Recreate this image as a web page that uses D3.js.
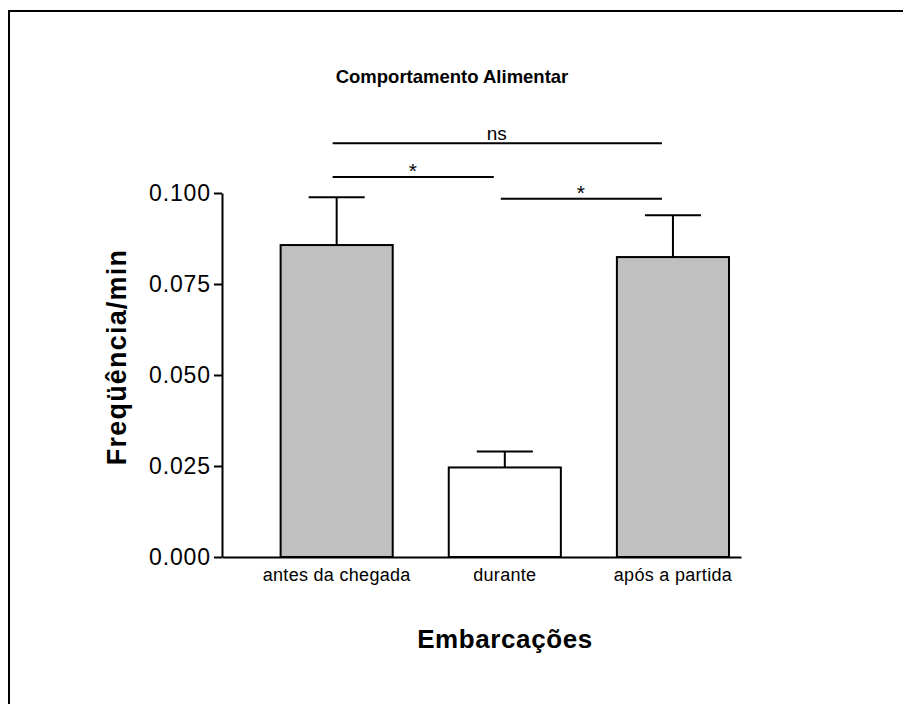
<!DOCTYPE html>
<html>
<head>
<meta charset="utf-8">
<script src="https://cdn.jsdelivr.net/npm/d3@7"></script>
<style>
  body { margin: 0; background: #fff; }
  text { font-family: 'Liberation Sans', Arial, sans-serif; fill: #000; }
</style>
</head>
<body>
<div id="chart"></div>
<script>
const categories = ['antes da chegada', 'durante', 'após a partida'];
const means = [0.0857, 0.0246, 0.0824];
const sems = [0.0131, 0.0044, 0.0115];
const yTicks = [0, 0.025, 0.05, 0.075, 0.1];

// significance brackets: from category index, to category index, height, label
const compFrom = [0, 1, 0];
const compTo = [1, 2, 2];
const compY = [0.1044, 0.0984, 0.1137];
const compLabels = ['*', '*', 'ns'];

const titleName = 'Comportamento Alimentar';
const xTitle = 'Embarcações';
const yTitle = 'Freqüência/min';

drawChart();

function drawChart() {
  const width = 903;
  const height = 704;
  const axisLeftX = 222;
  const axisRightX = 741;
  const baseY = 557;
  const topY = 193;

  const svg = d3.select('#chart').append('svg')
      .attr('width', width)
      .attr('height', height);

  // outer frame (only top and left edges fall inside the picture)
  svg.append('path')
      .attr('d', `M9,${height} L9,11 L${width},11`)
      .attr('fill', 'none')
      .attr('stroke', '#000')
      .attr('stroke-width', 2);

  const x = d3.scaleBand()
      .domain(categories)
      .range([axisLeftX, axisRightX])
      .paddingInner(1 / 3)
      .paddingOuter(0.21)
      .align(0.83);

  const y = d3.scaleLinear()
      .domain([0, 0.1])
      .range([baseY, topY]);

  drawAxes(svg, x, y, baseY, axisLeftX);
  drawBars(svg, x, y);
  drawComparisons(svg, x, y);
  drawTitles(svg);
}

function drawAxes(svg, x, y, baseY, axisLeftX) {
  const yAxis = svg.append('g')
      .attr('transform', `translate(${axisLeftX},0)`)
      .call(d3.axisLeft(y)
        .tickValues(yTicks)
        .tickFormat(d3.format('.3f'))
        .tickSize(8)
        .tickSizeOuter(0)
        .tickPadding(3));
  yAxis.selectAll('path, line').attr('stroke', '#000').attr('stroke-width', 2);
  yAxis.selectAll('text')
      .style('font-size', '23px')
      .style('letter-spacing', '0.9px')
      .attr('font-family', null);

  const xAxis = svg.append('g')
      .attr('transform', `translate(0,${baseY})`)
      .call(d3.axisBottom(x).tickSize(0).tickSizeOuter(0).tickPadding(11));
  xAxis.select('.domain').attr('stroke', '#000').attr('stroke-width', 2);
  xAxis.selectAll('text')
      .style('font-size', '18px')
      .style('letter-spacing', '0.3px')
      .attr('font-family', null);
}

function drawBars(svg, x, y) {
  const bw = x.bandwidth();

  svg.selectAll('.bar')
      .data(categories)
      .enter()
      .append('rect')
      .attr('class', 'bar')
      .attr('x', d => x(d))
      .attr('y', (d, i) => y(means[i]))
      .attr('width', bw)
      .attr('height', (d, i) => y(0) - y(means[i]))
      .attr('fill', d => d === 'durante' ? '#ffffff' : '#c0c0c0')
      .attr('stroke', '#000')
      .attr('stroke-width', 2);

  // error bars (upper only)
  const err = svg.selectAll('.err')
      .data(categories)
      .enter()
      .append('g')
      .attr('class', 'err');

  err.append('line')
      .attr('x1', d => x(d) + bw / 2)
      .attr('x2', d => x(d) + bw / 2)
      .attr('y1', (d, i) => y(means[i]))
      .attr('y2', (d, i) => y(means[i] + sems[i]))
      .attr('stroke', '#000')
      .attr('stroke-width', 2);

  err.append('line')
      .attr('x1', d => x(d) + bw / 4)
      .attr('x2', d => x(d) + bw * 3 / 4)
      .attr('y1', (d, i) => y(means[i] + sems[i]))
      .attr('y2', (d, i) => y(means[i] + sems[i]))
      .attr('stroke', '#000')
      .attr('stroke-width', 2);
}

function drawComparisons(svg, x, y) {
  const center = i => x(categories[i]) + x.bandwidth() / 2;

  const comp = svg.selectAll('.comp')
      .data(compLabels)
      .enter()
      .append('g')
      .attr('class', 'comp');

  comp.append('line')
      .attr('x1', (d, i) => center(compFrom[i]) - 4)
      .attr('x2', (d, i) => center(compTo[i]) - 11)
      .attr('y1', (d, i) => y(compY[i]))
      .attr('y2', (d, i) => y(compY[i]))
      .attr('stroke', '#000')
      .attr('stroke-width', 2);

  comp.append('text')
      .text(d => d)
      .attr('x', (d, i) => (center(compFrom[i]) + center(compTo[i])) / 2 - 8)
      .attr('y', (d, i) => y(compY[i]) - (d === 'ns' ? 3 : -1))
      .style('text-anchor', 'middle')
      .style('font-size', d => d === 'ns' ? '19px' : '21px');
}

function drawTitles(svg) {
  svg.append('text')
      .text(titleName)
      .attr('x', 452)
      .attr('y', 83)
      .style('text-anchor', 'middle')
      .style('font-size', '18.5px')
      .style('font-weight', 'bold');

  svg.append('text')
      .text(xTitle)
      .attr('x', 505)
      .attr('y', 648)
      .style('text-anchor', 'middle')
      .style('font-size', '26px')
      .style('font-weight', 'bold')
      .style('letter-spacing', '0.6px');

  svg.append('text')
      .text(yTitle)
      .attr('transform', 'translate(126,357) rotate(-90)')
      .style('text-anchor', 'middle')
      .style('font-size', '27px')
      .style('font-weight', 'bold')
      .style('letter-spacing', '1.2px');
}
</script>
</body>
</html>
